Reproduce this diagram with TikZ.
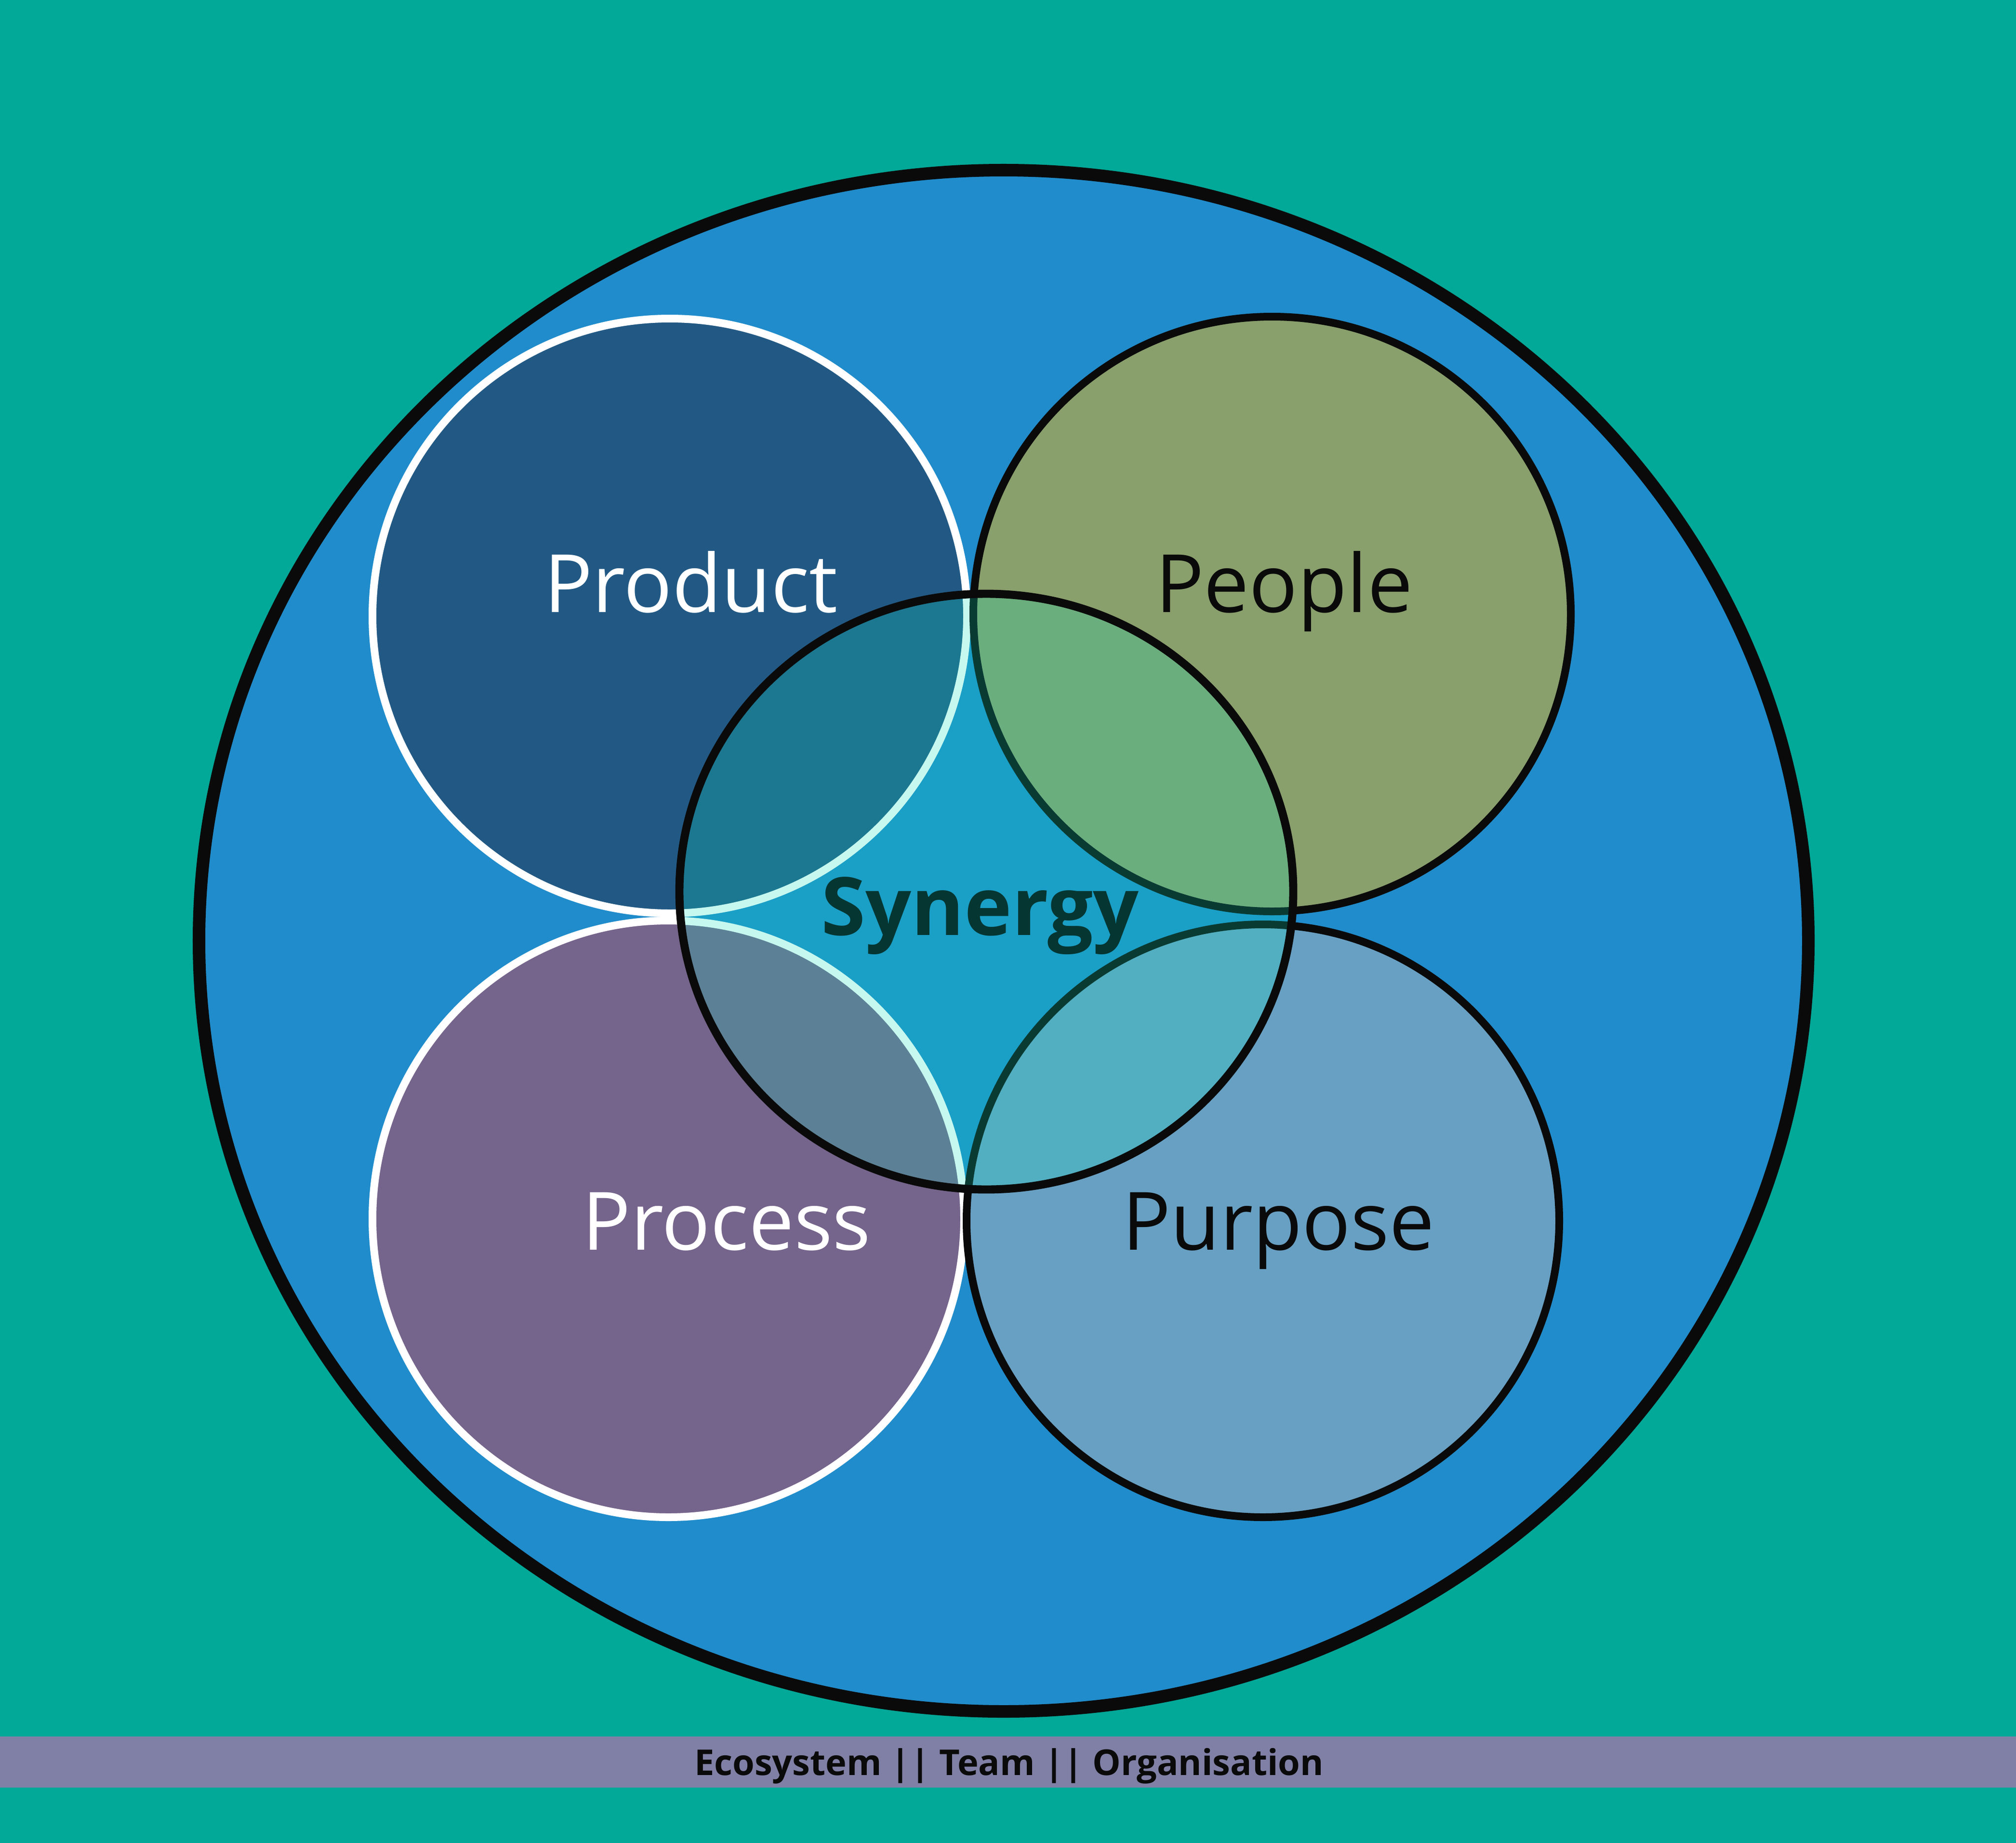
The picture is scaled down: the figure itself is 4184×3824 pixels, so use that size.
\documentclass[tikz,border=0pt]{standalone}
\usepackage{fontspec}
\setmainfont{Open Sans}
\definecolor{bgteal}{RGB}{2,168,152}
\definecolor{outerblue}{RGB}{32,140,203}
\definecolor{productc}{RGB}{34,89,132}
\definecolor{peoplec}{RGB}{137,159,108}
\definecolor{processc}{RGB}{117,100,139}
\definecolor{purposec}{RGB}{104,160,195}
\definecolor{synfill}{RGB}{10,226,190}
\definecolor{syntext}{RGB}{5,54,50}
\definecolor{barc}{RGB}{128,128,166}
\definecolor{inkc}{RGB}{10,10,10}
\begin{document}
\begin{tikzpicture}[x=0.01cm,y=-0.01cm,
  ring/.style={line width=4.55pt},
  label/.style={anchor=base,inner sep=0pt,font=\fontsize{47.5}{57}\selectfont},
]
\useasboundingbox (0,0) rectangle (4184,3824);
\fill[bgteal] (0,0) rectangle (4184,3824);
% footer bar
\fill[barc] (0,3603) rectangle (4184,3709);
\node[anchor=base,inner sep=0pt,font=\fontsize{21}{25}\selectfont\bfseries,text=inkc] (foot) at (2094,3683) {Ecosystem || Team || Organisation};
% outer ellipse
\draw[fill=outerblue,draw=inkc,line width=7.4pt] (2083,1952) ellipse [x radius=1670,y radius=1599];
% four circles
\draw[ring,fill=productc,draw=white] (1390,1278) ellipse [x radius=617,y radius=617];
\draw[ring,fill=processc,draw=white] (1387,2529) ellipse [x radius=614,y radius=619];
\draw[ring,fill=peoplec,draw=inkc] (2640,1274) ellipse [x radius=620,y radius=617];
\draw[ring,fill=purposec,draw=inkc] (2621,2533) ellipse [x radius=615,y radius=615];
% labels
\node[label,text=white] (product) at (1434,1270) {Product};
\node[label,text=inkc] (people) at (2665,1270) {People};
\node[label,text=white] (process) at (1508,2593) {Process};
\node[label,text=inkc] (purpose) at (2653,2593) {Purpose};
% synergy overlay
\draw[fill=synfill,fill opacity=0.23,draw=inkc,line width=4.8pt] (2047,1850) ellipse [x radius=637,y radius=618];
\node[label,text=syntext,font=\fontsize{47.5}{57}\selectfont\bfseries] (synergy) at (2034,1940) {Synergy};
\end{tikzpicture}
\end{document}
